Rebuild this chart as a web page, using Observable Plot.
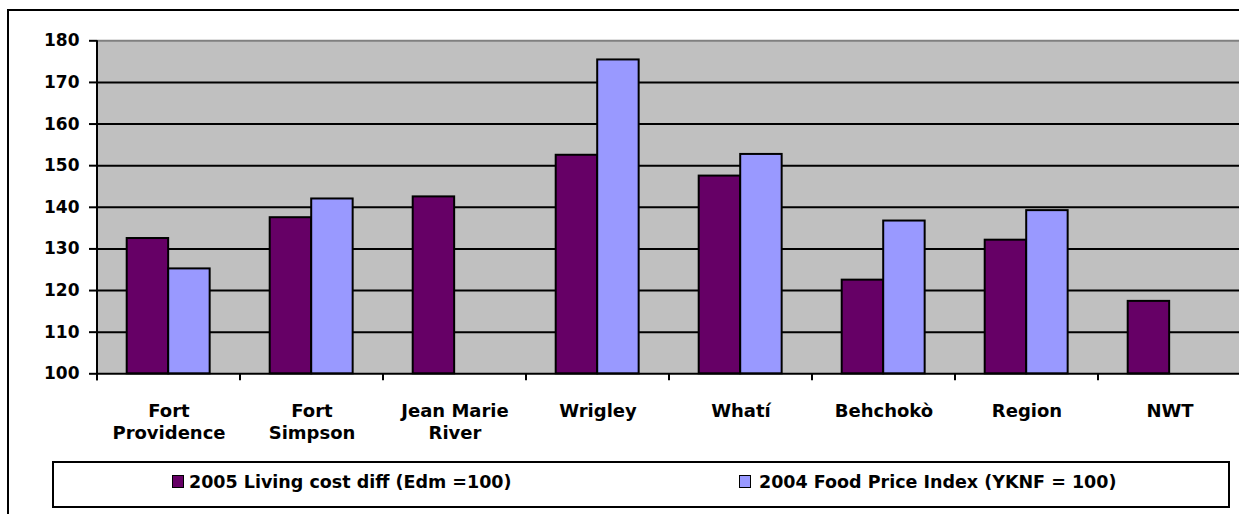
<!DOCTYPE html>
<html><head><meta charset="utf-8">
<script src="https://cdn.jsdelivr.net/npm/d3@7"></script>
<script src="https://cdn.jsdelivr.net/npm/@observablehq/plot@0.6"></script>
<style>
html,body{margin:0;padding:0;overflow:hidden;background:#fff;width:1239px;height:514px;}
#frame{position:absolute;left:7px;top:9px;width:1300px;height:600px;border:2px solid #000;box-sizing:border-box;}
#chart{position:absolute;left:0;top:0;}
#legend{position:absolute;left:52.3px;top:460.7px;width:1178px;height:47px;border:2px solid #000;box-sizing:border-box;background:#fff;}
.sw{position:absolute;width:12px;height:13px;border:1.5px solid #000;box-sizing:border-box;}
.lt{position:absolute;font-family:"DejaVu Sans";font-weight:bold;font-size:17.5px;line-height:20px;white-space:nowrap;color:#000;}
</style></head><body>
<div id="frame"></div><div id="chart"></div><div id="legend"></div>
<script>
const categories = ["Fort Providence", "Fort Simpson", "Jean Marie River", "Wrigley", "Whatí", "Behchokò", "Region", "NWT"];
const tickLabels = ["Fort\nProvidence", "Fort\nSimpson", "Jean Marie\nRiver", "Wrigley", "Whatí", "Behchokò", "Region", "NWT"];
const seriesNames = ["2005 Living cost diff (Edm =100)", "2004 Food Price Index (YKNF = 100)"];
const seriesColors = ["#660066", "#9999FF"];
const living2005 = [132.5, 137.5, 142.5, 152.5, 147.5, 122.5, 132.1, 117.4];
const food2004 = [125.2, 142.0, null, 175.4, 152.7, 136.7, 139.2, null];
const yTicks = [100, 110, 120, 130, 140, 150, 160, 170, 180];

const seriesValues = [living2005, food2004];
const table = [];
seriesNames.forEach((s, si) => categories.forEach((c, ci) => {
  const v = seriesValues[si][ci];
  if (v != null) table.push({category: c, series: s, value: v});
}));

const font = "DejaVu Sans";
const W = 1242, H = 455;
const mL = 97, mR = 0.7, mT = 40.3, mB = 81.7;

const boundaryTicks = (index, scales, values, dimensions) => {
  const x = scales.x, y = scales.y;
  const bw = x.bandwidth ? (typeof x.bandwidth === "function" ? x.bandwidth() : x.bandwidth)
    : (dimensions.width - dimensions.marginLeft - dimensions.marginRight) / categories.length;
  const g = d3.create("svg:g").attr("stroke", "black").attr("stroke-width", 2);
  const y0 = y(yTicks[0]);
  const x0 = x(categories[0]);
  g.append("line").attr("x1", x0).attr("x2", x0).attr("y1", y(yTicks[yTicks.length - 1])).attr("y2", y0 + 7);
  const xs = categories.map(c => x(c));
  xs.push(x(categories[categories.length - 1]) + bw);
  xs.forEach(xx => g.append("line").attr("x1", xx).attr("x2", xx).attr("y1", y0).attr("y2", y0 + 7));
  return g.node();
};

const plot = Plot.plot({
  width: W, height: H,
  marginTop: mT, marginBottom: mB, marginLeft: mL, marginRight: mR,
  style: {background: "transparent", maxWidth: "none", overflow: "visible", fontFamily: font, fontWeight: "bold"},
  x: {domain: categories, padding: 0, axis: null},
  y: {domain: [yTicks[0], yTicks[yTicks.length - 1]], axis: null},
  marks: [
    Plot.frame({fill: "#C0C0C0", stroke: "none"}),
    Plot.ruleY(yTicks.slice(1, -1), {stroke: "black", strokeWidth: 2}),
    Plot.ruleY([yTicks[yTicks.length - 1]], {stroke: "#808080", strokeWidth: 2}),
    Plot.ruleY([yTicks[0]], {stroke: "black", strokeWidth: 2}),
    Plot.barY(table.filter(d => d.series === seriesNames[0]), {
      x: "category", y1: yTicks[0], y2: "value", fill: seriesColors[0],
      stroke: "black", strokeWidth: 2, insetLeft: 29.7, insetRight: 71.84
    }),
    Plot.barY(table.filter(d => d.series === seriesNames[1]), {
      x: "category", y1: yTicks[0], y2: "value", fill: seriesColors[1],
      stroke: "black", strokeWidth: 2, insetLeft: 71.2, insetRight: 30.34
    }),
    Plot.axisY({ticks: yTicks, tickSize: 8, tickPadding: 10, fontSize: 17, fontWeight: "bold", fontFamily: font,
      stroke: "black", strokeWidth: 2, tickFormat: d => String(d), label: null}),
    Plot.axisX({tickSize: 0, tickPadding: 28, fontSize: 18, fontWeight: "bold", fontFamily: font,
      lineHeight: 1.2, label: null, tickFormat: d => tickLabels[categories.indexOf(d)]}),
    boundaryTicks
  ]
});
document.getElementById("chart").appendChild(plot);

// legend
const legend = document.getElementById("legend");
const swLeft = [118.2, 684.7], txtLeft = [134.7, 704.7];
seriesNames.forEach((s, i) => {
  const sw = document.createElement("div");
  sw.className = "sw";
  sw.style.left = swLeft[i] + "px";
  sw.style.top = "12.3px";
  sw.style.background = seriesColors[i];
  legend.appendChild(sw);
  const t = document.createElement("div");
  t.className = "lt";
  t.style.left = txtLeft[i] + "px";
  t.style.top = "9px";
  t.textContent = s;
  legend.appendChild(t);
});
</script>
</body></html>
